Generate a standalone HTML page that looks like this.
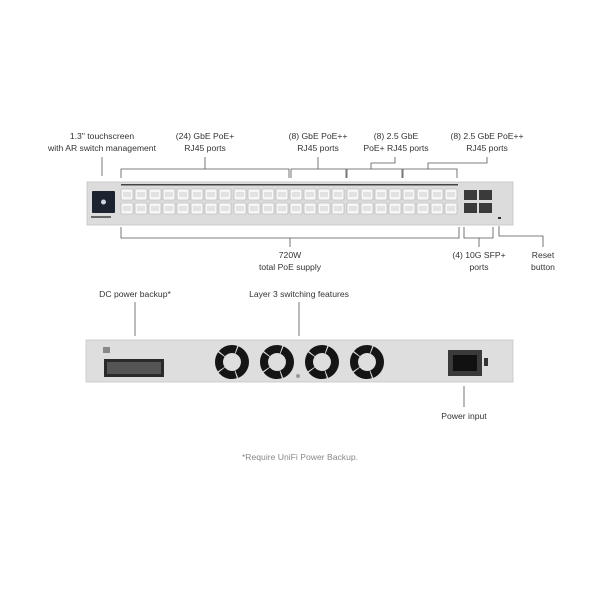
<!DOCTYPE html>
<html><head><style>
html,body{margin:0;padding:0;background:#fff;}
svg{display:block;}
text{font-family:"Liberation Sans",sans-serif;font-size:8.6px;fill:#333;text-anchor:middle;}
</style></head><body>
<svg width="600" height="600" viewBox="0 0 600 600" xmlns="http://www.w3.org/2000/svg">
<defs>
<g id="port">
<rect x="0" y="0" width="12" height="11" rx="1" fill="#f6f6f6" stroke="#b0b0b0" stroke-width="0.6"/>
<rect x="2" y="3" width="8" height="5" fill="#e2e2e2"/>
</g>
<g id="fan">
<circle r="13" fill="none" stroke="#151515" stroke-width="8" stroke-dasharray="15.5 1"/>
</g>
</defs>
<text x="102" y="139">1.3" touchscreen</text>
<text x="102" y="151">with AR switch management</text>
<text x="205" y="139">(24) GbE PoE+</text>
<text x="205" y="151">RJ45 ports</text>
<text x="318" y="139">(8) GbE PoE++</text>
<text x="318" y="151">RJ45 ports</text>
<text x="396" y="139">(8) 2.5 GbE</text>
<text x="396" y="151">PoE+ RJ45 ports</text>
<text x="487" y="139">(8) 2.5 GbE PoE++</text>
<text x="487" y="151">RJ45 ports</text>
<g stroke="#555" stroke-width="0.8" fill="none">
<path d="M102 176V157"/>
<path d="M121 178V169H289V178M205 169V157"/>
<path d="M291 178V169H346V178M318 169V157"/>
<path d="M347 178V169H402V178M371 169V163H395V157"/>
<path d="M403 178V169H457V178M428 169V163H487V157"/>
<path d="M121 227V238H459V227M290 238V247"/>
<path d="M464 227V238H493V227M479 238V247"/>
<path d="M499 226V236H543V247"/>
</g>
<rect x="87" y="182" width="426" height="43" fill="#dcdcdc" stroke="#c4c4c4" stroke-width="0.8"/>
<rect x="121" y="184" width="337" height="1.5" fill="#444"/>
<rect x="92" y="191" width="23" height="22" rx="1" fill="#1c2230"/>
<circle cx="103.5" cy="202" r="2.5" fill="#cfd6e0"/>
<rect x="91" y="216" width="20" height="2" fill="#666"/>
<g id="blk">
<use href="#port" x="121" y="189"/><use href="#port" x="135" y="189"/><use href="#port" x="149" y="189"/><use href="#port" x="163" y="189"/><use href="#port" x="177" y="189"/><use href="#port" x="191" y="189"/><use href="#port" x="205" y="189"/><use href="#port" x="219" y="189"/>
<use href="#port" x="121" y="203"/><use href="#port" x="135" y="203"/><use href="#port" x="149" y="203"/><use href="#port" x="163" y="203"/><use href="#port" x="177" y="203"/><use href="#port" x="191" y="203"/><use href="#port" x="205" y="203"/><use href="#port" x="219" y="203"/>
</g>
<use href="#blk" x="113"/>
<use href="#blk" x="226"/>
<g fill="#3a3a3a">
<rect x="464" y="190" width="13" height="10"/><rect x="479" y="190" width="13" height="10"/>
<rect x="464" y="203" width="13" height="10"/><rect x="479" y="203" width="13" height="10"/>
</g>
<rect x="498" y="217" width="3" height="2" fill="#333"/>
<text x="290" y="258">720W</text>
<text x="290" y="270">total PoE supply</text>
<text x="479" y="258">(4) 10G SFP+</text>
<text x="479" y="270">ports</text>
<text x="543" y="258">Reset</text>
<text x="543" y="270">button</text>
<text x="135" y="297">DC power backup*</text>
<text x="299" y="297">Layer 3 switching features</text>
<g stroke="#555" stroke-width="0.8"><path d="M135 302V336M299 302V336M464 386V407"/></g>
<rect x="86" y="340" width="427" height="42" fill="#dedede" stroke="#c6c6c6" stroke-width="0.8"/>
<rect x="104" y="359" width="60" height="18" fill="#2a2a2a"/>
<rect x="107" y="362" width="54" height="12" fill="#555"/>
<rect x="103" y="347" width="7" height="6" fill="#888"/>
<rect x="448" y="350" width="34" height="26" fill="#3a3a3a"/>
<rect x="453" y="355" width="24" height="16" fill="#111"/>
<rect x="484" y="358" width="4" height="8" fill="#333"/>
<use href="#fan" x="232" y="362"/>
<use href="#fan" x="277" y="362"/>
<use href="#fan" x="322" y="362"/>
<use href="#fan" x="367" y="362"/>
<circle cx="298" cy="376" r="2" fill="#999"/>
<text x="464" y="419">Power input</text>
<text x="300" y="460" style="fill:#888">*Require UniFi Power Backup.</text>
</svg>
</body></html>
